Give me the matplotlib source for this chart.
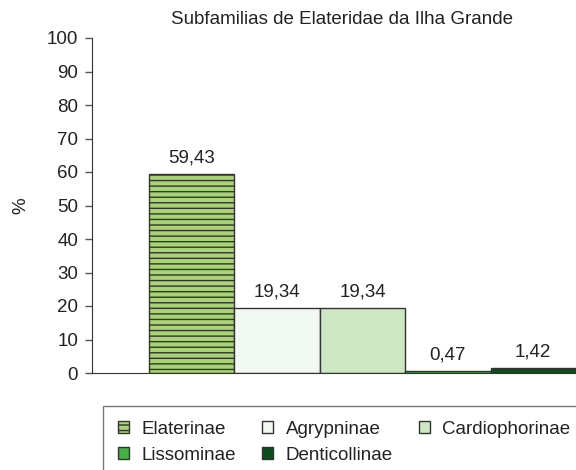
import matplotlib.pyplot as plt

plt.rcParams['font.family'] = ['Liberation Sans', 'DejaVu Sans']

subfamilias = ['Elaterinae', 'Agrypninae', 'Cardiophorinae', 'Lissominae', 'Denticollinae']
valores = [59.43, 19.34, 19.34, 0.47, 1.42]
rotulos = ['59,43', '19,34', '19,34', '0,47', '1,42']
cores = ['#a8d474', '#f2f9f2', '#cde7c2', '#46b046', '#0b4d1c']
hachuras = ['---', '', '', '', '']

fig = plt.figure(figsize=(5.76, 4.70), dpi=100)
ax = fig.add_axes([92/576, 1-373/470, 1-92/576, (373-38)/470])

barras = []
for i in range(len(valores)):
    b = ax.bar(i, valores[i], width=1, color=cores[i], edgecolor='#333333',
               linewidth=1, hatch=hachuras[i], label=subfamilias[i])
    barras.append(b)
    ax.text(i, valores[i] + 2.3, rotulos[i], ha='center', va='bottom',
            fontsize=13.5, color='#222222')

ax.set_xlim(-0.5 - 57/85.5, 4.5)
ax.set_ylim(0, 100)
ax.set_yticks(range(0, 101, 10))
ax.set_xticks([])
ax.tick_params(axis='y', labelsize=13.5, labelcolor='#222222', length=5,
               width=1, color='#555555', pad=5)
for s in ['top', 'right']:
    ax.spines[s].set_visible(False)
for s in ['left', 'bottom']:
    ax.spines[s].set_color('#333333')

ax.set_ylabel('%', fontsize=13.5, color='#222222')
ax.yaxis.set_label_coords(-0.13, 0.5)
fig.text(342/576, 1-20/470, 'Subfamilias de Elateridae da Ilha Grande',
         ha='center', va='center', fontsize=13.5, color='#222222')

# legenda preenchida por linhas (matplotlib preenche por colunas)
ordem = [0, 3, 1, 4, 2]
leg = fig.legend([barras[k] for k in ordem], [subfamilias[k] for k in ordem],
                 loc='upper left', bbox_to_anchor=(103/576, 1-406/470), ncol=3,
                 fontsize=13.5, frameon=True, fancybox=False, edgecolor='#555555',
                 handlelength=0.6, handleheight=0.6, columnspacing=1.4,
                 handletextpad=0.65, borderpad=0.8, labelspacing=0.46,
                 borderaxespad=0)
for t in leg.get_texts():
    t.set_color('#222222')
leg.get_frame().set_linewidth(1)

fig.savefig('out.png', dpi=100)
